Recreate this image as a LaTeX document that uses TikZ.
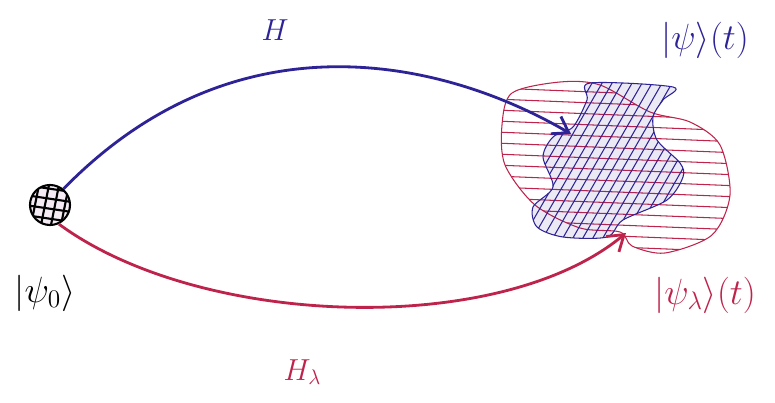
\documentclass[tikz,border=0pt]{standalone}
\usetikzlibrary{arrows.meta}
\definecolor{inkblue}{RGB}{45,35,150}
\definecolor{inkred}{RGB}{190,35,75}
\begin{document}
\begin{tikzpicture}[
        state/.style={circle, draw, very thick, fill=violet!8, minimum size=0.8cm, inner sep=0pt},
        evol/.style={line width=1.6pt, -{Straight Barb[length=3mm, width=4mm]}},
        blueline/.style={draw=inkblue, line width=0.6pt},
        redline/.style={draw=inkred, line width=0.6pt},
        lbl/.style={font=\huge},
        hlbl/.style={font=\LARGE}
    ]
    \useasboundingbox (0,0) rectangle (15.5,8.06);

    % Initial state
    \node[state, path picture={
        \foreach \k in {-0.3,-0.1,0.1,0.3}
            \draw[shift={(path picture bounding box.center)}] (\k-0.1,-0.5) -- (\k+0.1,0.5) (-0.5,\k+0.1) -- (0.5,\k-0.05);
    }] (psi0) at (1.0,3.96) {};
    \node[lbl] (psi0_lbl) at (0.9,2.2) {$|\psi_0\rangle$};

    % Region |psi_lambda>(t)
    \def\redblob{(10.24,6.2) (11.2,6.42) (12.0,6.36) (13.0,5.82) (13.8,5.62) (14.4,5.16) (14.6,4.16)
        (14.24,3.36) (13.3,3.0) (12.64,3.14) (12.4,3.42) (11.6,3.5) (10.7,3.96) (10.1,4.76) (10.04,5.56)}
    \begin{scope}
        \clip plot[smooth cycle] coordinates {\redblob};
        \foreach \y in {2.9,3.12,...,6.7}
            \draw[redline] (9.9,\y+0.1) -- (14.8,\y-0.1);
    \end{scope}
    \draw[redline] plot[smooth cycle] coordinates {\redblob};

    % Region |psi>(t)
    \def\blueblob{(11.8,6.4) (13.46,6.32) (13.26,6.06) (13.06,5.72) (13.14,5.26) (13.6,4.8) (13.66,4.52)
        (13.34,4.06) (12.46,3.66) (12.14,3.32) (11.26,3.32) (10.74,3.52) (10.66,3.92) (11.06,4.32)
        (10.86,4.92) (11.06,5.32) (11.46,5.52) (11.74,6.06)}
    \fill[inkblue, opacity=0.1] plot[smooth cycle] coordinates {\blueblob};
    \begin{scope}
        \clip plot[smooth cycle] coordinates {\blueblob};
        \foreach \x in {8.4,8.6,...,13.8}
            \draw[blueline] (\x,3.2) -- (\x+1.9,6.5);
    \end{scope}
    \draw[blueline] plot[smooth cycle] coordinates {\blueblob};

    % Arrow ends
    \coordinate (tip_h) at (11.42,5.38);
    \coordinate (tip_hl) at (12.52,3.4);

    % Evolutions
    \draw[evol, inkblue] (psi0.50) .. controls (4.8,7.9) and (9.0,6.8) .. (tip_h);
    \draw[evol, inkred] (psi0.-65) .. controls (4.0,1.5) and (10.0,1.3) .. (tip_hl);

    % Labels
    \node[hlbl, text=inkblue] (h_lbl) at (5.5,7.46) {$H$};
    \node[hlbl, text=inkred] (hl_lbl) at (6.05,0.62) {$H_\lambda$};
    \node[lbl, text=inkblue] (psi_lbl) at (14.1,7.26) {$|\psi\rangle(t)$};
    \node[lbl, text=inkred] (psil_lbl) at (14.1,2.16) {$|\psi_\lambda\rangle(t)$};

\end{tikzpicture}
\end{document}
